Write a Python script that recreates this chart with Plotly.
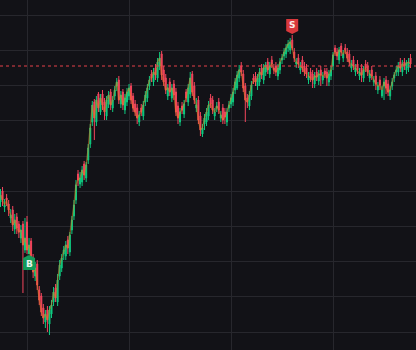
import plotly.graph_objects as go

opens = [
    298, 309, 293, 302, 296, 282, 290, 271, 283, 276,
    262, 276, 250, 278, 246, 259, 242, 224, 236, 210,
    204, 192, 178, 190, 176, 186, 198, 212, 198, 224,
    232, 246, 244, 260, 248, 270, 284, 300, 326, 316,
    318, 336, 322, 340, 356, 378, 398, 378, 406, 388,
    406, 398, 384, 396, 408, 392, 404, 414, 420, 396,
    408, 390, 398, 404, 414, 404, 396, 392, 378, 392,
    384, 398, 402, 414, 426, 418, 432, 422, 434, 446,
    430, 422, 404, 418, 402, 416, 408, 394, 378, 394,
    386, 408, 398, 406, 426, 414, 392, 400, 384, 366,
    376, 378, 384, 402, 400, 384, 392, 398, 382, 392,
    388, 378, 392, 396, 398, 410, 412, 422, 434, 426,
    414, 402, 394, 404, 422, 424, 414, 418, 432, 420,
    428, 438, 426, 440, 432, 434, 424, 430, 440, 444,
    446, 452, 450, 460, 448, 436, 442, 430, 440, 434,
    432, 420, 428, 426, 416, 428, 419, 430, 420, 429,
    428, 418, 424, 434, 452, 448, 440, 454, 442, 452,
    448, 446, 432, 440, 428, 436, 424, 432, 422, 436,
    434, 422, 430, 418, 424, 410, 420, 404, 414, 420,
    416, 404, 414, 422, 428, 428, 438, 428, 438, 430,
    432, 442,
]
closes = [
    305, 300, 295, 300, 290, 285, 275, 280, 272, 268,
    270, 255, 262, 250, 255, 238, 228, 232, 215, 200,
    188, 182, 186, 180, 190, 195, 208, 202, 220, 235,
    242, 250, 255, 252, 265, 280, 295, 315, 320, 322,
    330, 325, 335, 352, 372, 395, 382, 400, 392, 402,
    395, 388, 400, 405, 395, 400, 410, 418, 400, 405,
    395, 402, 408, 412, 400, 392, 388, 382, 385, 388,
    395, 405, 412, 420, 422, 428, 425, 438, 442, 425,
    418, 410, 412, 408, 412, 405, 388, 382, 388, 390,
    396, 402, 412, 422, 408, 400, 395, 380, 370, 372,
    382, 388, 395, 396, 390, 388, 394, 390, 385, 380,
    383, 388, 395, 402, 408, 418, 425, 430, 428, 412,
    400, 398, 405, 415, 420, 418, 422, 428, 425, 432,
    435, 430, 434, 436, 430, 428, 432, 438, 442, 448,
    452, 456, 458, 452, 442, 438, 436, 434, 432, 428,
    426, 424, 422, 420, 424, 423, 426, 425, 424, 426,
    422, 426, 430, 445, 448, 444, 450, 448, 446, 450,
    442, 438, 436, 434, 432, 430, 428, 425, 430, 432,
    428, 426, 424, 420, 416, 414, 415, 410, 418, 412,
    408, 410, 418, 425, 430, 434, 432, 436, 434, 437,
    438, 436,
]
highs = [
    311, 313, 301, 306, 300, 291, 294, 286, 287, 279,
    275, 279, 282, 284, 262, 262, 246, 238, 240, 214,
    207, 196, 190, 194, 194, 200, 213, 216, 226, 240,
    246, 254, 259, 264, 268, 284, 300, 320, 330, 328,
    334, 339, 338, 356, 376, 399, 401, 404, 408, 406,
    410, 402, 404, 409, 411, 404, 414, 422, 424, 409,
    411, 406, 412, 416, 417, 407, 400, 396, 389, 396,
    399, 409, 416, 424, 430, 432, 436, 442, 448, 449,
    434, 426, 416, 422, 416, 420, 412, 398, 392, 398,
    400, 411, 416, 428, 429, 418, 402, 404, 388, 376,
    386, 392, 399, 406, 404, 392, 398, 402, 389, 396,
    392, 392, 399, 406, 412, 422, 429, 435, 438, 430,
    417, 406, 409, 419, 426, 428, 426, 432, 436, 436,
    438, 442, 438, 444, 436, 438, 436, 442, 446, 452,
    456, 460, 462, 465, 452, 442, 446, 438, 444, 438,
    436, 428, 432, 430, 428, 432, 430, 434, 428, 432,
    432, 430, 434, 448, 455, 452, 453, 457, 450, 456,
    452, 450, 440, 444, 436, 440, 432, 436, 434, 440,
    438, 430, 434, 424, 428, 418, 424, 414, 422, 424,
    420, 414, 422, 428, 434, 438, 442, 440, 442, 440,
    442, 446,
]
lows = [
    293, 294, 288, 294, 284, 277, 269, 266, 266, 262,
    257, 207, 247, 246, 246, 233, 222, 219, 210, 195,
    184, 176, 172, 168, 165, 182, 194, 198, 194, 220,
    228, 240, 240, 246, 244, 266, 280, 296, 314, 312,
    314, 320, 318, 336, 352, 374, 360, 374, 388, 385,
    390, 380, 380, 392, 390, 388, 400, 409, 396, 392,
    390, 386, 394, 400, 396, 388, 384, 376, 374, 384,
    380, 394, 398, 410, 418, 414, 420, 418, 430, 420,
    414, 406, 400, 404, 398, 400, 384, 376, 374, 386,
    382, 398, 394, 402, 404, 396, 388, 376, 364, 363,
    370, 374, 380, 392, 386, 380, 388, 386, 378, 376,
    376, 374, 388, 392, 394, 406, 410, 418, 424, 408,
    378, 392, 390, 400, 416, 414, 410, 414, 421, 416,
    424, 426, 422, 432, 426, 424, 420, 426, 436, 440,
    442, 448, 446, 450, 438, 432, 432, 426, 428, 424,
    422, 416, 418, 412, 412, 419, 415, 414, 416, 422,
    414, 414, 420, 430, 444, 440, 436, 444, 438, 446,
    438, 434, 428, 430, 424, 426, 420, 418, 418, 428,
    424, 418, 420, 414, 410, 406, 410, 402, 400, 406,
    404, 400, 410, 418, 424, 424, 428, 424, 430, 426,
    428, 432,
]

REF_LEVEL = 434
BUY_IDX = 14
SELL_IDX = 143

GREEN = "#0ecb81"
RED = "#f6465d"
BG = "#121217"
GRID = "#27272d"

x = list(range(len(closes)))

fig = go.Figure()
fig.add_trace(go.Candlestick(
    x=x, open=opens, high=highs, low=lows, close=closes,
    increasing=dict(line=dict(color=GREEN, width=1), fillcolor=GREEN),
    decreasing=dict(line=dict(color=RED, width=1), fillcolor=RED),
    whiskerwidth=0, showlegend=False, hoverinfo="skip",
))
fig.add_trace(go.Scatter(
    x=x, y=closes, mode="lines",
    line=dict(color="rgba(225,130,35,0.5)", width=1.4),
    showlegend=False, hoverinfo="skip",
))

shapes = [
    dict(type="line", xref="paper", x0=0, x1=1, yref="y", y0=REF_LEVEL, y1=REF_LEVEL,
         line=dict(color="#e5414b", width=1, dash="dot")),
    dict(type="path", xref="x", yref="y", xsizemode="pixel", ysizemode="pixel",
         xanchor=BUY_IDX, yanchor=lows[BUY_IDX],
         path="M 0 -1 L 6 -4 L 6 -16 L -6 -16 L -6 -4 Z",
         fillcolor="#149a5a", line=dict(width=0)),
    dict(type="path", xref="x", yref="y", xsizemode="pixel", ysizemode="pixel",
         xanchor=SELL_IDX, yanchor=highs[SELL_IDX],
         path="M 0 1 L 6 4 L 6 16 L -6 16 L -6 4 Z",
         fillcolor="#d9383c", line=dict(width=0)),
]
annotations = [
    dict(x=BUY_IDX, y=lows[BUY_IDX], xref="x", yref="y", text="<b>B</b>",
         showarrow=False, yshift=-10, font=dict(color="#e8f5ee", size=9, family="DejaVu Sans")),
    dict(x=SELL_IDX, y=highs[SELL_IDX], xref="x", yref="y", text="<b>S</b>",
         showarrow=False, yshift=10, font=dict(color="#fbeaea", size=9, family="DejaVu Sans")),
]

fig.update_layout(
    width=416, height=350, margin=dict(l=0, r=0, t=0, b=0),
    paper_bgcolor=BG, plot_bgcolor=BG,
    shapes=shapes, annotations=annotations,
    xaxis=dict(range=[-0.245, 203.68], tick0=13, dtick=50, showticklabels=False,
               gridcolor=GRID, gridwidth=1, zeroline=False, showline=False,
               rangeslider=dict(visible=False), fixedrange=True),
    yaxis=dict(range=[150, 500], tick0=168, dtick=35.2, showticklabels=False,
               gridcolor=GRID, gridwidth=1, zeroline=False, showline=False, fixedrange=True),
)

fig.write_html("out.html", config={"displayModeBar": False})
